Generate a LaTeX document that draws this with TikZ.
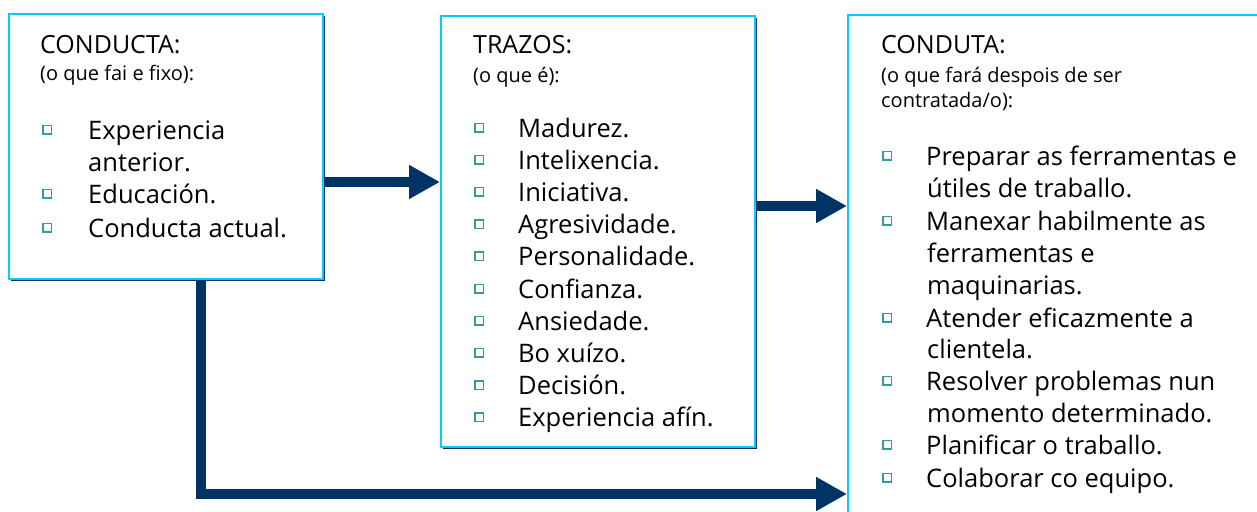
\documentclass[tikz,border=0pt]{standalone}
\usepackage{fontspec}
\setmainfont{Open Sans}
\usepackage{tikz}
\definecolor{ciano}{RGB}{0, 204, 255}
\definecolor{marino}{RGB}{0, 51, 102}
\definecolor{verdeazul}{RGB}{51, 153, 153}
\usetikzlibrary{arrows.meta, positioning, shadows}

\begin{document}
\begin{tikzpicture}[
    x=1pt, y=-1pt,
    caixa/.style={rectangle, draw=ciano, line width=2pt, fill=white, inner sep=0pt, anchor=north west, drop shadow={shadow xshift=2pt, shadow yshift=-2pt, fill=marino, opacity=1}},
    titulo/.style={anchor=base west, inner sep=0pt, text=black, font=\fontsize{25}{30}\selectfont},
    subtitulo/.style={anchor=base west, inner sep=0pt, text=black, font=\fontsize{20}{24}\selectfont},
    elemento/.style={anchor=base west, inner sep=0pt, text=black, font=\fontsize{25.5}{30}\selectfont},
    cadro/.style={rectangle, draw=verdeazul, line width=1.5pt, minimum size=8.5pt, inner sep=0pt},
    frecha/.style={-{Triangle[length=31pt, width=32pt]}, line width=10.5pt, draw=marino, line join=miter}
]
    \useasboundingbox (0,0) rectangle (1257,511);
    \clip (0,0) rectangle (1257,511);

    % caixas
    \node[caixa, minimum width=314pt, minimum height=265pt] (conducta) at (8,13) {};
    \node[caixa, minimum width=314pt, minimum height=431pt] (trazos) at (440,15) {};
    \node[caixa, minimum width=430pt, minimum height=520pt] (conduta) at (847,14) {};

    % conducta
    \node[titulo] (conductatit) at (40,53) {CONDUCTA:};
    \node[subtitulo] (conductasub) at (40,81) {(o que fai e fixo):};
    \node[cadro] (bc1) at (47,129.5) {};
    \node[elemento] (c1) at (88,139) {Experiencia};
    \node[elemento] (c1b) at (88,171) {anterior.};
    \node[cadro] (bc2) at (47,193.5) {};
    \node[elemento] (c2) at (88,203) {Educación.};
    \node[cadro] (bc3) at (47,227.5) {};
    \node[elemento] (c3) at (88,237) {Conducta actual.};

    % trazos
    \node[titulo] (trazostit) at (473,53) {TRAZOS:};
    \node[subtitulo] (trazossub) at (473,82) {(o que é):};
    \foreach \txt [count=\i] in {Madurez., Intelixencia., Iniciativa., Agresividade., Personalidade., Confianza., Ansiedade., Bo xuízo., Decisión., Experiencia afín.} {
        \node[cadro] (bt\i) at (479,{127.5+32.2*(\i-1)}) {};
        \node[elemento] (t\i) at (518,{137+32.2*(\i-1)}) {\txt};
    }

    % conduta
    \node[titulo] (condutatit) at (881,53) {CONDUTA:};
    \node[subtitulo] (condutasub) at (881,82) {(o que fará despois de ser};
    \node[subtitulo] (condutasubb) at (881,107) {contratada/o):};
    \node[cadro] (bd1) at (887,155.5) {};
    \node[elemento] (d1) at (926,165) {Preparar as ferramentas e};
    \node[elemento] (d1b) at (927,197) {útiles de traballo.};
    \node[cadro] (bd2) at (887,220.5) {};
    \node[elemento] (d2) at (926,230) {Manexar habilmente as};
    \node[elemento] (d2b) at (927,262) {ferramentas e};
    \node[elemento] (d2c) at (927,294) {maquinarias.};
    \node[cadro] (bd3) at (887,317.5) {};
    \node[elemento] (d3) at (926,327) {Atender eficazmente a};
    \node[elemento] (d3b) at (927,358) {clientela.};
    \node[cadro] (bd4) at (887,380.5) {};
    \node[elemento] (d4) at (926,390) {Resolver problemas nun};
    \node[elemento] (d4b) at (927,422) {momento determinado.};
    \node[cadro] (bd5) at (887,444.5) {};
    \node[elemento] (d5) at (926,454) {Planificar o traballo.};
    \node[cadro] (bd6) at (887,477.5) {};
    \node[elemento] (d6) at (926,487) {Colaborar co equipo.};

    % frechas
    \draw[frecha] (conducta.east |- 0,182) -- (trazos.west |- 0,182);
    \draw[frecha] (trazos.east |- 0,206) -- (conduta.west |- 0,206);
    \draw[frecha] (conducta.south -| 201,0) |- (conduta.west |- 0,494);
\end{tikzpicture}
\end{document}
